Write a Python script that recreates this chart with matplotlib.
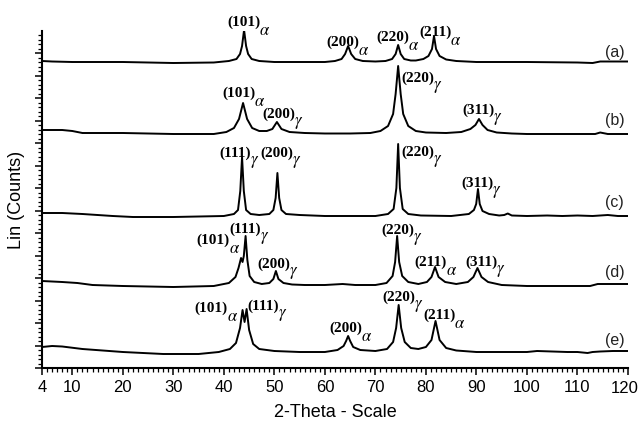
import matplotlib
matplotlib.use("Agg")
import matplotlib.pyplot as plt
from matplotlib.ticker import MultipleLocator, FixedLocator

plt.rcParams['mathtext.fontset'] = 'stix'

# ---- data (2-theta, intensity above each pattern's baseline) ----
x_a = [4, 6, 10, 20, 30, 38, 41, 42.5, 43.2, 43.6, 44.0, 44.4, 44.8, 45.5, 47, 50, 55, 60, 62, 63.3, 64.0, 64.6,
       65.2, 66, 67.5, 70, 72, 73.3, 74.0, 74.5, 75.0, 75.7, 77, 78, 79.5, 80.5, 81.2, 81.6, 82.0, 82.7, 84, 86,
       90, 100, 110, 113, 114.5, 117, 120]
y_a = [1, 0.5, 0, 0, -1, -0.5, 1, 3, 8, 16, 32, 16, 8, 3, 1, 0, 0, 0, 1, 3, 8, 16,
       8, 3, 1, 0.5, 1, 3, 8, 17, 8, 3, 1.5, 1.5, 3, 6, 13, 26, 13, 6, 2.5, 1,
       0, 0, -0.5, -1, 0.5, 0.5, 0.5]

x_b = [4, 8, 10, 12, 20, 30, 38, 40.5, 42, 43, 43.8, 44.6, 45.6, 47, 48.5, 49.6, 50.5, 51.4, 53, 56, 60, 65,
       69, 71, 72.5, 73.5, 74.0, 74.5, 75.0, 75.5, 76.5, 78, 80, 84, 87, 88.8, 89.8, 90.5, 91.2, 92.2, 94, 97,
       100, 110, 113.5, 114.5, 116, 120]
y_b = [4, 4, 3, 1, 1, 0, 0, 2, 6, 15, 31, 15, 6, 3, 3, 5, 12, 5, 2, 1, 0.5, 0.5,
       1, 3, 8, 20, 40, 68, 40, 20, 8, 3, 1.5, 1, 2, 5, 9, 15, 9, 4, 1.5, 0.5,
       0, 0, 0, 1.5, 0, 0]

x_c = [4, 8, 12, 18, 22, 30, 40, 42, 42.8, 43.25, 43.6, 43.95, 44.4, 45.3, 47, 49, 49.8, 50.25, 50.6, 50.95,
       51.4, 52.3, 55, 60, 70, 72.5, 73.6, 74.15, 74.5, 74.85, 75.4, 76.5, 79, 85, 88.5, 89.5, 89.95, 90.3,
       90.65, 91.2, 92.5, 94.5, 95.5, 96.2, 97, 100, 104, 107, 110, 113, 116, 118, 120]
y_c = [3, 3, 2, 0, -1, -1, 0, 2, 6, 25, 59, 25, 6, 2, 1, 2, 6, 18, 43, 18,
       6, 2, 1, 0, 0, 2, 7, 28, 72, 28, 7, 2, 0.5, 0, 2, 6, 12, 27,
       12, 5, 2, 0.5, 1, 2.5, 0.5, 0, 0.5, 0, 0.5, 0, 1, 0, 0]

x_d = [4, 8, 11, 14, 20, 30, 38, 41, 42.3, 42.9, 43.4, 43.7, 43.95, 44.3, 44.65, 45.1, 46, 47.5, 49, 49.8,
       50.3, 50.8, 51.8, 53.5, 56, 60, 63.5, 66, 70, 72.2, 73.4, 73.9, 74.3, 74.7, 75.3, 76.5, 78.5, 80.2,
       81.1, 81.8, 82.5, 83.8, 86, 88.3, 89.4, 90.2, 91.0, 92.3, 95, 100, 110, 112.5, 114, 120]
y_d = [5, 4, 3, 1, 0, -1, 0, 3, 9, 18, 28, 24, 30, 50, 26, 10, 4, 2, 3, 7,
       15, 7, 3, 1.5, 1, 1, 2, 1, 1, 3, 10, 24, 50, 24, 10, 4, 2, 4,
       9, 19, 9, 4, 2, 4, 9, 18, 9, 4, 1, 0, 0, 0, 2, 2]

x_e = [4, 6, 8, 12, 20, 28, 35, 39, 41.2, 42.4, 43.2, 43.7, 44.1, 44.5, 45.0, 45.8, 47, 50, 55, 60, 62.5,
       63.7, 64.2, 64.6, 65.0, 65.6, 67, 70, 72.3, 73.5, 74.1, 74.6, 75.1, 75.8, 77, 78.5, 80.0, 81.1, 81.9,
       82.7, 84, 86, 90, 95, 100, 102, 108, 110, 112, 113, 114.5, 117, 120]
y_e = [5, 6, 5.5, 3, 0, -2, -2, 0, 3, 9, 24, 42, 30, 43, 22, 8, 3, 1, 0, 0, 2,
       6, 11, 16, 11, 5, 2, 1, 3, 10, 24, 47, 24, 10, 4, 3, 5, 12, 31,
       12, 4, 1.5, 0, 0, 0, 1, 0, 0, -1, 0, 0.5, 1, 1]

pattern_names = ["(a)", "(b)", "(c)", "(d)", "(e)"]
x_tick_labels = [4, 10, 20, 30, 40, 50, 60, 70, 80, 90, 100, 110, 120]

# peak labels: (plane, phase) per pattern
peaks_a = [("(101)", r"\alpha"), ("(200)", r"\alpha"), ("(220)", r"\alpha"), ("(211)", r"\alpha")]
peaks_b = [("(101)", r"\alpha"), ("(200)", r"\gamma"), ("(220)", r"\gamma"), ("(311)", r"\gamma")]
peaks_c = [("(111)", r"\gamma"), ("(200)", r"\gamma"), ("(220)", r"\gamma"), ("(311)", r"\gamma")]
peaks_d = [("(101)", r"\alpha"), ("(111)", r"\gamma"), ("(200)", r"\gamma"), ("(220)", r"\gamma"),
           ("(211)", r"\alpha"), ("(311)", r"\gamma")]
peaks_e = [("(101)", r"\alpha"), ("(111)", r"\gamma"), ("(200)", r"\alpha"), ("(220)", r"\gamma"),
           ("(211)", r"\alpha")]

# ---- layout (positions / styles) ----
offsets = [306, 234, 152, 82, 16]
label_pos = {
    0: [(43.9, 346), (63.6, 326), (73.5, 331), (81.8, 336)],
    1: [(43.0, 275), (50.8, 254), (78.4, 290), (90.3, 258)],
    2: [(42.2, 215), (50.5, 215), (78.4, 216), (90.2, 185)],
    3: [(37.9, 128), (44.2, 139), (49.9, 104), (74.5, 138), (81.0, 106), (90.9, 106)],
    4: [(37.5, 60), (47.8, 62), (64.2, 40), (74.7, 71), (82.6, 53)],
}
name_x = 117.3
name_y = [316, 248, 165, 95, 28]

fig = plt.figure(figsize=(6.39, 4.29), dpi=100)
ax = fig.add_axes([42 / 639, (429 - 368) / 429, (628 - 42) / 639, (368 - 31) / 429])

xs = [x_a, x_b, x_c, x_d, x_e]
ys = [y_a, y_b, y_c, y_d, y_e]
peaks = [peaks_a, peaks_b, peaks_c, peaks_d, peaks_e]

for i in range(5):
    ax.plot(xs[i], [v + offsets[i] for v in ys[i]], color='black', lw=1.4, solid_joinstyle='round')
    for (plane, phase), (px, py) in zip(peaks[i], label_pos[i]):
        t = ax.text(px, py, plane, ha='center', va='center', fontsize=11,
                    family='Liberation Serif', weight='bold', color='black')
        ax.annotate(r"$" + phase + r"$", xy=(1.0, 0.0), xycoords=t, xytext=(-0.8, -1.0),
                    textcoords='offset points', ha='left', va='center', fontsize=12, color='black')
    ax.text(name_x, name_y[i], pattern_names[i], ha='center', va='center',
            fontsize=11.5, family='Liberation Sans', color='#222222')

ax.set_xlim(4, 120)
ax.set_ylim(0, 337)
ax.spines['top'].set_visible(False)
ax.spines['right'].set_visible(False)
ax.spines['left'].set_linewidth(1.5)
ax.spines['bottom'].set_linewidth(1.5)

ax.xaxis.set_major_locator(FixedLocator(x_tick_labels))
ax.set_xticklabels([str(v) for v in x_tick_labels[:-1]] + [""])
ax.xaxis.set_minor_locator(MultipleLocator(1))
ax.yaxis.set_major_locator(MultipleLocator(22.5))
ax.yaxis.set_minor_locator(MultipleLocator(4.5))
ax.set_yticklabels([])
ax.tick_params(axis='both', which='major', length=5, width=1.1, direction='out')
ax.tick_params(axis='both', which='minor', length=3, width=0.9, direction='out')
ax.tick_params(axis='x', labelsize=12, pad=4)
for lbl in ax.get_xticklabels():
    lbl.set_family('Liberation Sans')
# last tick label, kept inside the figure edge as in the reference
fig.text(0.999, (429 - 368 - 13) / 429, str(x_tick_labels[-1]), ha='right', va='top',
         fontsize=12, family='Liberation Sans')

ax.set_xlabel("2-Theta - Scale", fontsize=13, family='Liberation Sans', labelpad=6)
ax.set_ylabel("Lin (Counts)", fontsize=13, family='Liberation Sans', labelpad=4)

fig.savefig("out.png", dpi=100)
